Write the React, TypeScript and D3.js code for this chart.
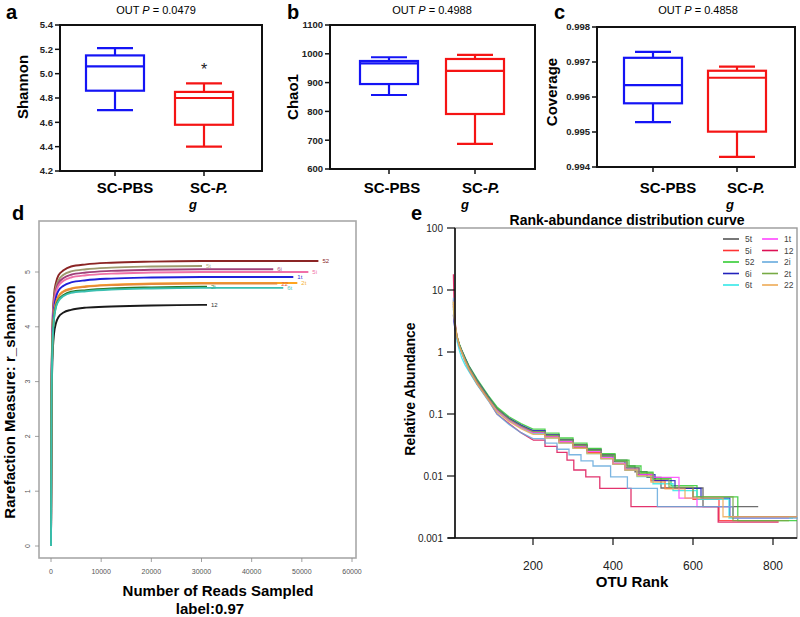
import React from 'react';
import * as d3 from 'd3';

const FONT = "'Liberation Sans', Arial, Helvetica, sans-serif";

// ---------- Panels a-c: box plots ----------
const groups = ['SC-PBS', 'SC-P.'];
// [min, q1, median, q3, max]
const shannonBlue = [4.70, 4.86, 5.06, 5.15, 5.21];
const shannonRed = [4.40, 4.58, 4.80, 4.85, 4.92];
const chaoBlue = [857, 895, 967, 975, 988];
const chaoRed = [687, 791, 941, 982, 996];
const coverageBlue = [0.99528, 0.99582, 0.99634, 0.99712, 0.99729];
const coverageRed = [0.99429, 0.99501, 0.99655, 0.99675, 0.99687];
const shannonTicks = [4.2, 4.4, 4.6, 4.8, 5.0, 5.2, 5.4];
const chaoTicks = [600, 700, 800, 900, 1000, 1100];
const coverageTicks = [0.994, 0.995, 0.996, 0.997, 0.998];

// ---------- Panel d: rarefaction ----------
const rareGrid = [0, 100, 300, 600, 1000, 1500, 2500, 4000, 7000, 12000, 20000, 30000, 40000, 50000];
const rareNames = ['12', '52', '5t', '6i', '5i', '1t', '2t', '22', '2i', '6t'];
const rareColors = ['#1A1A1A', '#8B2525', '#9E9A6E', '#A0407A', '#F070A8', '#2020D8', '#FFA520', '#E58A3A', '#2A7A2A', '#3ABFB0'];
const rareLabelColors = ['#333333', '#8B2525', '#B5B08A', '#B05080', '#F070A8', '#3030D8', '#F5B030', '#E0603A', '#2A7A2A', '#50C8BC'];
const rareEnds = [31100, 53300, 30100, 44300, 51300, 48300, 49100, 45100, 31100, 46300];
const rarePlateau = [4.40, 5.20, 5.11, 5.05, 5.00, 4.91, 4.80, 4.79, 4.73, 4.71];
const rareValues = [
  [0, 2.42, 3.43, 3.87, 4.07, 4.18, 4.26, 4.31, 4.35, 4.37, 4.39, 4.40],
  [0, 2.86, 4.06, 4.58, 4.81, 4.94, 5.03, 5.10, 5.14, 5.17, 5.19, 5.20, 5.20, 5.20],
  [0, 2.81, 3.99, 4.50, 4.73, 4.85, 4.95, 5.01, 5.05, 5.08, 5.10, 5.11],
  [0, 2.78, 3.94, 4.44, 4.67, 4.80, 4.89, 4.95, 4.99, 5.02, 5.04, 5.05, 5.05],
  [0, 2.75, 3.90, 4.40, 4.63, 4.75, 4.84, 4.90, 4.94, 4.97, 4.99, 5.00, 5.00, 5.00],
  [0, 2.70, 3.83, 4.32, 4.54, 4.66, 4.75, 4.81, 4.85, 4.88, 4.90, 4.91, 4.91],
  [0, 2.64, 3.74, 4.22, 4.44, 4.56, 4.65, 4.70, 4.74, 4.77, 4.79, 4.80, 4.80],
  [0, 2.63, 3.73, 4.21, 4.43, 4.55, 4.64, 4.69, 4.73, 4.76, 4.78, 4.79, 4.79],
  [0, 2.60, 3.69, 4.16, 4.38, 4.49, 4.58, 4.64, 4.67, 4.70, 4.72, 4.73],
  [0, 2.59, 3.67, 4.14, 4.36, 4.47, 4.56, 4.62, 4.65, 4.68, 4.70, 4.71, 4.71],
];
const rareXTicks = [0, 10000, 20000, 30000, 40000, 50000, 60000];
const rareYTicks = [0, 1, 2, 3, 4, 5];

// ---------- Panel e: rank abundance ----------
const rankNames = ['5t', '5i', '52', '6i', '6t', '1t', '12', '2i', '2t', '22'];
const rankColors = ['#555555', '#FF3333', '#33CC33', '#2222BB', '#33E8E8', '#FF44FF', '#DD1155', '#66AADD', '#77AA44', '#EEAA55'];
const rankHeadRanks = [1, 3, 6, 10, 16, 22, 30, 40, 60, 88, 110, 140, 170, 200];
const rankHeadValues = [
  [5.5, 3.2, 2.3, 1.7, 1.3, 1.05, 0.8, 0.58, 0.35, 0.19, 0.125, 0.085, 0.065, 0.053],
  [7, 3.8, 2.5, 1.75, 1.3, 1.0, 0.76, 0.55, 0.33, 0.18, 0.115, 0.08, 0.062, 0.05],
  [6.5, 3.6, 2.5, 1.8, 1.35, 1.08, 0.82, 0.6, 0.37, 0.2, 0.13, 0.09, 0.07, 0.057],
  [4, 2.8, 2.2, 1.7, 1.3, 1.05, 0.8, 0.58, 0.35, 0.19, 0.12, 0.085, 0.066, 0.054],
  [5, 3.5, 2.5, 1.5, 1.05, 0.8, 0.62, 0.48, 0.3, 0.17, 0.11, 0.078, 0.06, 0.048],
  [6, 3.4, 2.4, 1.7, 1.25, 1.0, 0.75, 0.55, 0.33, 0.18, 0.115, 0.08, 0.062, 0.05],
  [18, 5, 2.8, 1.8, 1.25, 0.98, 0.72, 0.52, 0.31, 0.17, 0.1, 0.07, 0.05, 0.038],
  [7.5, 4, 2.6, 1.7, 1.2, 0.95, 0.7, 0.5, 0.3, 0.165, 0.1, 0.068, 0.05, 0.04],
  [6, 3.5, 2.5, 1.8, 1.3, 1.03, 0.78, 0.57, 0.34, 0.185, 0.12, 0.083, 0.064, 0.052],
  [6.5, 3.8, 2.6, 1.75, 1.25, 0.98, 0.72, 0.52, 0.31, 0.17, 0.108, 0.076, 0.058, 0.047],
];
const rankTails: [number, number][][] = [
  [[230, 0.046], [265, 0.039], [300, 0.032], [335, 0.027], [370, 0.022], [405, 0.018], [435, 0.0145], [455, 0.0117], [485, 0.0095], [520, 0.0064], [625, 0.0032], [763, 0.0032]],
  [[230, 0.043], [265, 0.035], [300, 0.029], [335, 0.024], [370, 0.019], [400, 0.0155], [430, 0.0125], [460, 0.0105], [495, 0.0084], [530, 0.0063], [600, 0.0042], [665, 0.0019], [815, 0.0019]],
  [[230, 0.049], [265, 0.041], [300, 0.034], [335, 0.028], [370, 0.023], [405, 0.018], [440, 0.0145], [470, 0.0115], [500, 0.0092], [545, 0.007], [610, 0.0046], [712, 0.0019], [860, 0.0019]],
  [[230, 0.046], [265, 0.038], [300, 0.031], [335, 0.026], [370, 0.021], [400, 0.017], [430, 0.0135], [465, 0.0105], [505, 0.0084], [555, 0.0063], [620, 0.0044], [692, 0.0022], [860, 0.0022]],
  [[230, 0.041], [265, 0.034], [300, 0.028], [335, 0.023], [370, 0.019], [400, 0.0155], [430, 0.0125], [460, 0.0098], [500, 0.0075], [550, 0.0058], [610, 0.0042], [690, 0.0021], [850, 0.0021]],
  [[230, 0.043], [265, 0.036], [300, 0.03], [335, 0.025], [370, 0.02], [400, 0.016], [430, 0.013], [465, 0.0105], [500, 0.0095], [565, 0.0044], [610, 0.0032], [700, 0.0021], [840, 0.0021]],
  [[230, 0.03], [260, 0.024], [285, 0.018], [302, 0.0125], [332, 0.0097], [367, 0.0063], [445, 0.0032], [663, 0.0018], [814, 0.0018]],
  [[230, 0.034], [260, 0.027], [290, 0.022], [320, 0.0175], [350, 0.0145], [394, 0.0097], [436, 0.0063], [511, 0.0032], [700, 0.0021], [862, 0.0021]],
  [[230, 0.045], [265, 0.038], [300, 0.031], [335, 0.026], [370, 0.021], [405, 0.017], [435, 0.0135], [465, 0.011], [500, 0.0088], [540, 0.0066], [600, 0.0046], [700, 0.0019], [840, 0.0019]],
  [[230, 0.041], [265, 0.034], [300, 0.028], [335, 0.023], [370, 0.019], [400, 0.0155], [430, 0.0125], [460, 0.01], [495, 0.008], [530, 0.0062], [580, 0.0044], [675, 0.0022], [860, 0.0022]],
];
const rankXTicks = [200, 400, 600, 800];
const rankYTicks = [0.001, 0.01, 0.1, 1, 10, 100];
const rankYTickLabels = ['0.001', '0.01', '0.1', '1', '10', '100'];

const BLUE = '#1414F5';
const RED = '#F51414';

type BoxProps = {
  letter: string; letterX: number;
  title: string; titleX: number;
  yLabel: string; yLabelX: number; yLabelY: number;
  x0: number; x1: number; yTop: number; yBot: number;
  domain: [number, number]; ticks: number[]; fmt: (v: number) => string;
  centers: [number, number]; labelXs: [number, number];
  blue: number[]; red: number[]; star?: number;
};

function BoxPanel(p: BoxProps) {
  const y = d3.scaleLinear().domain(p.domain).range([p.yBot, p.yTop]);
  const x = d3.scalePoint<string>().domain(groups).range(p.centers);
  const bw = 58, cw = 36;
  const drawBox = (stats: number[], cx: number, color: string) => {
    const [mn, q1, md, q3, mx] = stats;
    return (
      <g stroke={color} strokeWidth={2.2} fill="none">
        <line x1={cx} x2={cx} y1={y(mx)} y2={y(q3)} />
        <line x1={cx} x2={cx} y1={y(q1)} y2={y(mn)} />
        <line x1={cx - cw / 2} x2={cx + cw / 2} y1={y(mx)} y2={y(mx)} />
        <line x1={cx - cw / 2} x2={cx + cw / 2} y1={y(mn)} y2={y(mn)} />
        <rect x={cx - bw / 2} y={y(q3)} width={bw} height={y(q1) - y(q3)} />
        <line x1={cx - bw / 2} x2={cx + bw / 2} y1={y(md)} y2={y(md)} />
      </g>
    );
  };
  return (
    <g>
      <text x={p.letterX} y={19} fontSize={20} fontWeight="bold">{p.letter}</text>
      <text x={p.titleX} y={14} fontSize={11} textAnchor="middle">
        OUT <tspan fontStyle="italic">P</tspan> = {p.title}
      </text>
      <text transform={`translate(${p.yLabelX},${p.yLabelY}) rotate(-90)`} textAnchor="middle" fontSize={15} fontWeight="bold">{p.yLabel}</text>
      <rect x={p.x0} y={p.yTop} width={p.x1 - p.x0} height={p.yBot - p.yTop} fill="none" stroke="#111" strokeWidth={2} />
      {p.ticks.map(t => (
        <g key={t}>
          <line x1={p.x0 - 5} x2={p.x0} y1={y(t)} y2={y(t)} stroke="#111" strokeWidth={1.5} />
          <text x={p.x0 - 7} y={y(t) + 3.3} fontSize={9.5} fontWeight="bold" textAnchor="end" fill="#222">{p.fmt(t)}</text>
        </g>
      ))}
      {groups.map(g => (
        <line key={g} x1={x(g)!} x2={x(g)!} y1={p.yBot} y2={p.yBot + 5} stroke="#111" strokeWidth={1.5} />
      ))}
      {drawBox(p.blue, x(groups[0])!, BLUE)}
      {drawBox(p.red, x(groups[1])!, RED)}
      {p.star !== undefined && (
        <text x={x(groups[1])!} y={y(p.star) + 10} fontSize={16} textAnchor="middle" fill="#222">*</text>
      )}
      <text x={p.labelXs[0]} y={193} fontSize={15} fontWeight="bold" textAnchor="middle">SC-PBS</text>
      <text x={p.labelXs[1]} y={193} fontSize={15} fontWeight="bold" textAnchor="middle">SC-<tspan fontStyle="italic">P.</tspan></text>
      <text x={p.labelXs[1] - 16} y={209} fontSize={13} fontWeight="bold" fontStyle="italic" textAnchor="middle">g</text>
    </g>
  );
}

function RarefactionPanel() {
  const x = d3.scaleLinear().domain([0, 60000]).range([51, 352]);
  const y = d3.scaleLinear().domain([0, 5]).range([546, 272]);
  const line = d3.line<[number, number]>().x(d => x(d[0])).y(d => y(d[1])).curve(d3.curveMonotoneX);
  const frame = { x0: 39, x1: 356, y0: 221, y1: 558 };
  return (
    <g>
      <text x={12} y={220} fontSize={20} fontWeight="bold">d</text>
      <rect x={frame.x0} y={frame.y0} width={frame.x1 - frame.x0} height={frame.y1 - frame.y0} fill="none" stroke="#A8A8A8" strokeWidth={1.6} />
      {rareYTicks.map(t => (
        <g key={t}>
          <line x1={frame.x0 - 4} x2={frame.x0} y1={y(t)} y2={y(t)} stroke="#888" strokeWidth={0.8} />
          <text transform={`translate(${30},${y(t)}) rotate(-90)`} fontSize={7} textAnchor="middle" fill="#555">{t}</text>
        </g>
      ))}
      {rareXTicks.map(t => (
        <g key={t}>
          <line x1={x(t)} x2={x(t)} y1={frame.y1} y2={frame.y1 + 4} stroke="#888" strokeWidth={0.8} />
          <text x={x(t)} y={574} fontSize={7} textAnchor="middle" fill="#555">{t}</text>
        </g>
      ))}
      {rareNames.map((n, i) => {
        const pts: [number, number][] = rareValues[i].map((v, j) => [rareGrid[j], v] as [number, number]);
        pts.push([rareEnds[i], rarePlateau[i]]);
        return (
          <g key={n}>
            <path d={line(pts) || ''} fill="none" stroke={rareColors[i]} strokeWidth={1.9} />
            <text x={x(rareEnds[i]) + 4} y={y(rarePlateau[i]) + 2} fontSize={6} fill={rareLabelColors[i]}>{n}</text>
          </g>
        );
      })}
      <text transform="translate(15,402) rotate(-90)" textAnchor="middle" fontSize={15} fontWeight="bold">Rarefaction Measure: r_shannon</text>
      <text x={218} y={596} textAnchor="middle" fontSize={15} fontWeight="bold">Number of Reads Sampled</text>
      <text x={210} y={614} textAnchor="middle" fontSize={15} fontWeight="bold">label:0.97</text>
    </g>
  );
}

function RankPanel() {
  const x = d3.scaleLinear().domain([0, 860]).range([453, 797]);
  const y = d3.scaleLog().domain([0.001, 100]).range([538, 228]);
  const lin = d3.line<[number, number]>().x(d => x(d[0])).y(d => y(d[1]));
  const step = d3.line<[number, number]>().x(d => x(d[0])).y(d => y(d[1])).curve(d3.curveStepAfter);
  const axisX = 455;
  return (
    <g>
      <text x={411} y={220} fontSize={20} fontWeight="bold">e</text>
      <text x={627} y={225} textAnchor="middle" fontSize={14} fontWeight="bold">Rank-abundance distribution curve</text>
      <rect x={axisX} y={228} width={797 - axisX} height={538 - 228} fill="none" stroke="#9A9A9A" strokeWidth={1.4} />
      {rankNames.map((n, i) => {
        const head: [number, number][] = rankHeadValues[i].map((v, j) => [rankHeadRanks[j], v] as [number, number]);
        const last = head[head.length - 1];
        const tail: [number, number][] = [last, ...rankTails[i]];
        return (
          <g key={n} stroke={rankColors[i]} strokeWidth={1.3} fill="none" opacity={0.85}>
            <path d={lin(head) || ''} />
            <path d={step(tail) || ''} />
          </g>
        );
      })}
      <line x1={axisX} x2={axisX} y1={228} y2={538} stroke="#111" strokeWidth={1.6} />
      <line x1={448} x2={797} y1={538} y2={538} stroke="#111" strokeWidth={1.6} />
      {rankYTicks.map((t, i) => (
        <g key={t}>
          <line x1={447} x2={axisX} y1={y(t)} y2={y(t)} stroke="#111" strokeWidth={1.2} />
          <text x={443} y={y(t) + 3.5} fontSize={10} textAnchor="end" fill="#222">{rankYTickLabels[i]}</text>
        </g>
      ))}
      {rankXTicks.map(t => (
        <g key={t}>
          <line x1={x(t)} x2={x(t)} y1={538} y2={545} stroke="#111" strokeWidth={1.2} />
          <text x={x(t)} y={570} fontSize={12} textAnchor="middle" fill="#222">{t}</text>
        </g>
      ))}
      <text x={632} y={587} textAnchor="middle" fontSize={15} fontWeight="bold">OTU Rank</text>
      <text transform="translate(415,389) rotate(-90)" textAnchor="middle" fontSize={14} fontWeight="bold">Relative Abundance</text>
      {rankNames.map((n, i) => {
        const col = Math.floor(i / 5);
        const row = i % 5;
        const lx = col === 0 ? 723 : 762;
        const ly = 239 + row * 11.5;
        return (
          <g key={n}>
            <line x1={lx} x2={lx + 16} y1={ly} y2={ly} stroke={rankColors[i]} strokeWidth={1.6} />
            <text x={lx + 22} y={ly + 3} fontSize={8.5} fill="#444">{n}</text>
          </g>
        );
      })}
    </g>
  );
}

export default function App() {
  return (
    <svg width={800} height={617} style={{ position: 'absolute', left: 0, top: 0 }} fontFamily={FONT}>
      <rect width={800} height={617} fill="#fff" />
      <BoxPanel letter="a" letterX={6} title="0.0479" titleX={156} yLabel="Shannon" yLabelX={28} yLabelY={87}
        x0={60} x1={262} yTop={25} yBot={171} domain={[4.2, 5.4]} ticks={shannonTicks} fmt={d3.format('.1f')}
        centers={[115, 204]} labelXs={[125, 209]} blue={shannonBlue} red={shannonRed} star={5.07} />
      <BoxPanel letter="b" letterX={287} title="0.4988" titleX={432} yLabel="Chao1" yLabelX={298} yLabelY={97}
        x0={330} x1={535} yTop={25} yBot={169} domain={[600, 1100]} ticks={chaoTicks} fmt={d3.format('d')}
        centers={[389, 475]} labelXs={[392, 481]} blue={chaoBlue} red={chaoRed} />
      <BoxPanel letter="c" letterX={554} title="0.4858" titleX={698} yLabel="Coverage" yLabelX={557} yLabelY={92}
        x0={597} x1={795} yTop={27} yBot={167} domain={[0.994, 0.998]} ticks={coverageTicks} fmt={d3.format('.3f')}
        centers={[653, 737]} labelXs={[668, 746]} blue={coverageBlue} red={coverageRed} />
      <RarefactionPanel />
      <RankPanel />
    </svg>
  );
}
